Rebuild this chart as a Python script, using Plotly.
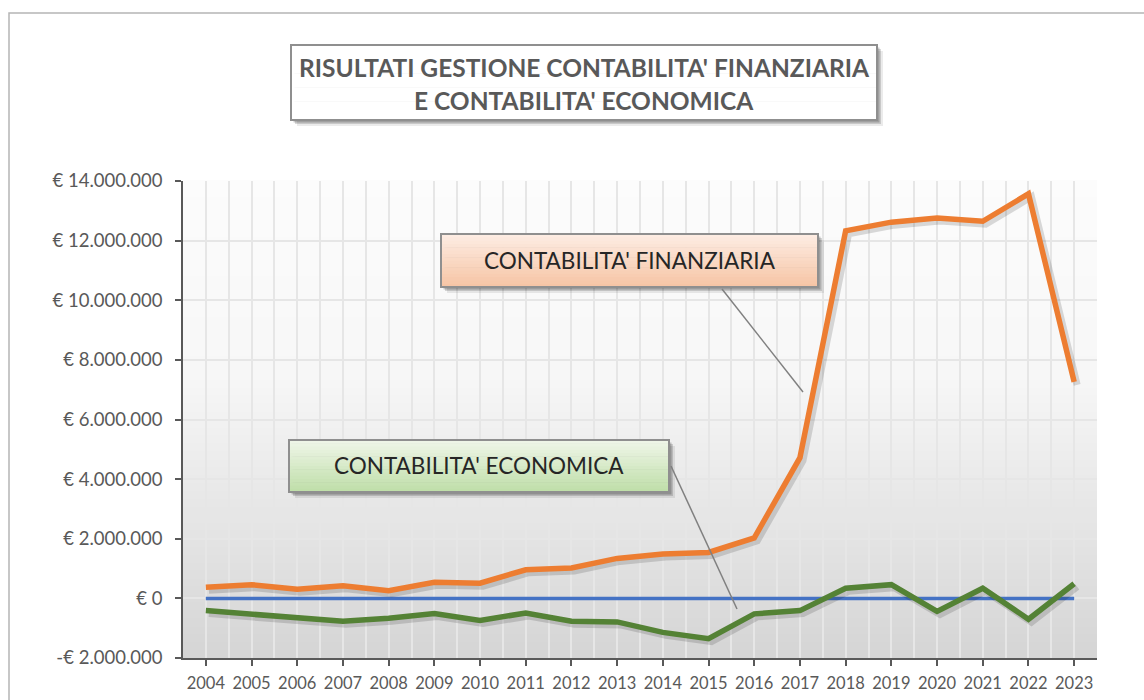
import plotly.graph_objects as go

# ---------------- data ----------------
years = list(range(2004, 2024))
finanziaria = [370000, 460000, 310000, 420000, 260000, 540000, 510000, 960000, 1020000, 1340000,
               1490000, 1540000, 2030000, 4720000, 12330000, 12620000, 12760000, 12650000, 13570000, 7260000]
economica = [-410000, -530000, -640000, -770000, -670000, -510000, -740000, -490000, -770000, -790000,
             -1140000, -1350000, -520000, -410000, 340000, 460000, -440000, 340000, -700000, 490000]
zero_line = [0] * len(years)
y_tickvals = [-2000000, 0, 2000000, 4000000, 6000000, 8000000, 10000000, 12000000, 14000000]
y_ticktext = ["-€ 2.000.000", "€ 0", "€ 2.000.000", "€ 4.000.000", "€ 6.000.000", "€ 8.000.000",
              "€ 10.000.000", "€ 12.000.000", "€ 14.000.000"]
title_lines = ["RISULTATI GESTIONE CONTABILITA' FINANZIARIA", "E CONTABILITA' ECONOMICA"]
label_fin = "CONTABILITA' FINANZIARIA"
label_eco = "CONTABILITA' ECONOMICA"

# ---------------- geometry ----------------
W, H = 1144, 700
L, R, T, B = 183, 1097, 181, 658
PW, PH = R - L, B - T
XR = [2003.5, 2023.5]
YR = [-2000000, 14000000]
px_per_year = PW / (XR[1] - XR[0])
val_per_px = (YR[1] - YR[0]) / PH


def px(x):
    return (x - L) / PW


def py(y):
    return (B - y) / PH


FONT = "Lato"
shapes = []

# plot area gradient background
N = 60
for i in range(N):
    t0, t1 = i / N, (i + 1) / N
    t = (t0 + t1) / 2
    if t > 0.6:
        v = 247 + (t - 0.6) / 0.4 * 5
    else:
        v = 213 + t / 0.6 * 34
    v = int(round(v))
    shapes.append(dict(type="rect", xref="x domain", yref="y domain", x0=0, x1=1, y0=t0, y1=t1 + 0.002,
                       fillcolor=f"rgb({v},{v},{v})", line=dict(width=0), layer="below"))

# outer chart border
shapes.append(dict(type="rect", xref="paper", yref="paper", x0=px(9), x1=px(1160), y0=py(13), y1=py(720),
                   line=dict(color="#b5b5b5", width=1.5), fillcolor="rgba(0,0,0,0)", layer="below"))


def box(x0, y0, x1, y1, top_rgb, bot_rgb, shadow=True):
    out = []
    if shadow:
        for off, a in [(6, 0.08), (4, 0.15), (2.5, 0.2)]:
            out.append(dict(type="rect", xref="paper", yref="paper",
                            x0=px(x0 + off), x1=px(x1 + off), y0=py(y0 + off), y1=py(y1 + off),
                            fillcolor=f"rgba(0,0,0,{a})", line=dict(width=0), layer="above"))
    n = 16
    for i in range(n):
        f = (i + 0.5) / n
        c = [int(round(top_rgb[k] + (bot_rgb[k] - top_rgb[k]) * f)) for k in range(3)]
        ya = y0 + (y1 - y0) * i / n
        yb = y0 + (y1 - y0) * (i + 1) / n + 0.6
        out.append(dict(type="rect", xref="paper", yref="paper", x0=px(x0), x1=px(x1),
                        y0=py(ya), y1=py(min(yb, y1)),
                        fillcolor=f"rgb({c[0]},{c[1]},{c[2]})", line=dict(width=0), layer="above"))
    out.append(dict(type="rect", xref="paper", yref="paper", x0=px(x0), x1=px(x1), y0=py(y0), y1=py(y1),
                    line=dict(color="#8f8f8f", width=2), fillcolor="rgba(0,0,0,0)", layer="above"))
    return out


# title box
shapes += box(291, 45, 877, 120, (255, 255, 255), (255, 255, 255))
# finanziaria label box
shapes += box(441, 234, 818, 287, (253, 237, 228), (246, 196, 164))
# economica label box
shapes += box(289, 440, 669, 492, (240, 246, 233), (190, 222, 168))

# leader lines
shapes.append(dict(type="line", xref="paper", yref="paper", x0=px(722), y0=py(289), x1=px(803), y1=py(392),
                   line=dict(color="#808080", width=1.5), layer="above"))
shapes.append(dict(type="line", xref="paper", yref="paper", x0=px(671), y0=py(466), x1=px(737), y1=py(609),
                   line=dict(color="#808080", width=1.5), layer="above"))

annotations = [
    dict(xref="paper", yref="paper", x=px(584), y=py(68), text=title_lines[0], showarrow=False,
         font=dict(family=FONT, size=24.5, color="#595959", weight="bold"), xanchor="center", yanchor="middle"),
    dict(xref="paper", yref="paper", x=px(584), y=py(100), text=title_lines[1], showarrow=False,
         font=dict(family=FONT, size=24.5, color="#595959", weight="bold"), xanchor="center", yanchor="middle"),
    dict(xref="paper", yref="paper", x=px(630), y=py(260), text=label_fin, showarrow=False,
         font=dict(family=FONT, size=22.5, color="#262626"), xanchor="center", yanchor="middle"),
    dict(xref="paper", yref="paper", x=px(479), y=py(465), text=label_eco, showarrow=False,
         font=dict(family=FONT, size=22.5, color="#262626"), xanchor="center", yanchor="middle"),
]

fig = go.Figure()

# zero reference line (base axes)
fig.add_trace(go.Scatter(x=years, y=zero_line, mode="lines", line=dict(color="#4472C4", width=3.5),
                         hoverinfo="skip", showlegend=False))

# shadows (shifted overlay axes)
dx = 3 / px_per_year
dy = 3 * val_per_px
for ser in (finanziaria, economica):
    fig.add_trace(go.Scatter(x=years, y=ser, mode="lines", xaxis="x2", yaxis="y2",
                             line=dict(color="rgba(0,0,0,0.14)", width=7), hoverinfo="skip", showlegend=False))

# main lines
fig.add_trace(go.Scatter(x=years, y=finanziaria, mode="lines", name=label_fin, xaxis="x3", yaxis="y3",
                         line=dict(color="#ED7D31", width=5.5), showlegend=False))
fig.add_trace(go.Scatter(x=years, y=economica, mode="lines", name=label_eco, xaxis="x3", yaxis="y3",
                         line=dict(color="#548235", width=5.5), showlegend=False))

grid_col = "#e6e6e6"
fig.update_layout(
    width=W, height=H,
    margin=dict(l=L, r=W - R, t=T, b=H - B, pad=0),
    paper_bgcolor="white",
    plot_bgcolor="rgba(0,0,0,0)",
    shapes=shapes,
    annotations=annotations,
    showlegend=False,
    xaxis=dict(range=XR, tickmode="array", tickvals=years, ticktext=[str(y) for y in years],
               showgrid=True, gridcolor=grid_col, gridwidth=2,
               minor=dict(dtick=0.5, tick0=2003.5, showgrid=True, gridcolor=grid_col, gridwidth=2),
               showline=True, linecolor="#595959", linewidth=1.5,
               ticks="outside", ticklen=6, tickcolor="#595959", tickwidth=1.5,
               ticklabelstandoff=3, automargin=False,
               tickfont=dict(family=FONT, size=16.5, color="#595959"), zeroline=False, fixedrange=True),
    yaxis=dict(range=YR, tickmode="array", tickvals=y_tickvals, ticktext=y_ticktext,
               showgrid=True, gridcolor=grid_col, gridwidth=2,
               showline=True, linecolor="#595959", linewidth=1.5,
               ticks="outside", ticklen=6, tickcolor="#595959", tickwidth=1.5,
               ticklabelstandoff=9, automargin=False,
               tickfont=dict(family=FONT, size=18.5, color="#595959"), zeroline=False, fixedrange=True),
    xaxis2=dict(overlaying="x", range=[XR[0] - dx, XR[1] - dx], visible=False, fixedrange=True),
    yaxis2=dict(overlaying="y", range=[YR[0] + dy, YR[1] + dy], visible=False, fixedrange=True),
    xaxis3=dict(overlaying="x", range=XR, visible=False, fixedrange=True),
    yaxis3=dict(overlaying="y", range=YR, visible=False, fixedrange=True),
)

fig.write_html("out.html", config={"displayModeBar": False},
               post_script="document.body.style.margin='0';")
